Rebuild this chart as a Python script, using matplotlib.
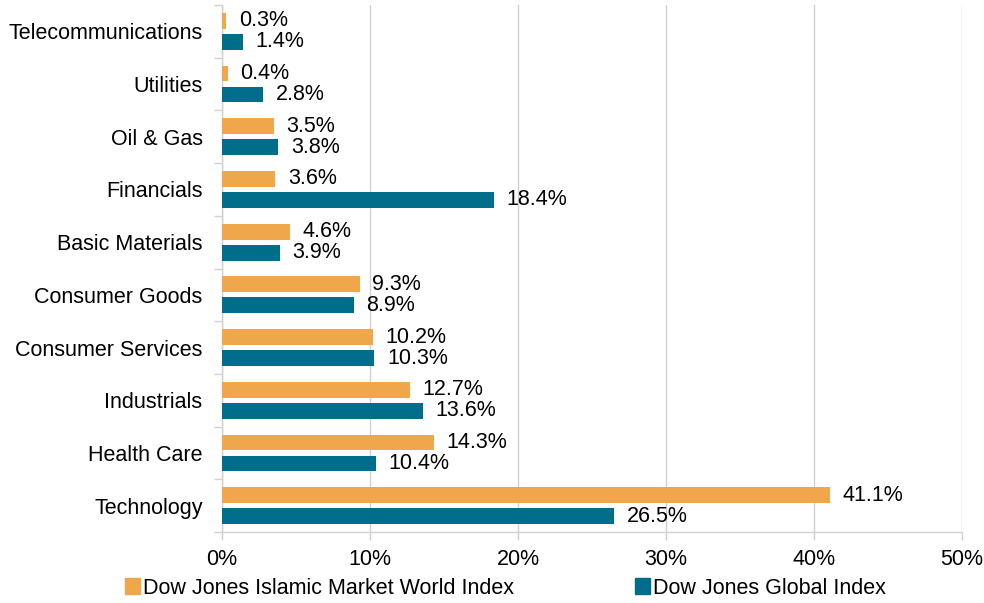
import matplotlib
matplotlib.use("Agg")
import matplotlib.pyplot as plt
import numpy as np

plt.rcParams['font.family'] = ['Liberation Sans', 'DejaVu Sans']

categories = ["Technology", "Health Care", "Industrials", "Consumer Services",
              "Consumer Goods", "Basic Materials", "Financials", "Oil & Gas",
              "Utilities", "Telecommunications"]
islamic = [41.1, 14.3, 12.7, 10.2, 9.3, 4.6, 3.6, 3.5, 0.4, 0.3]
global_idx = [26.5, 10.4, 13.6, 10.3, 8.9, 3.9, 18.4, 3.8, 2.8, 1.4]
series_names = ["Dow Jones Islamic Market World Index", "Dow Jones Global Index"]
xticks = [0, 10, 20, 30, 40, 50]

c_orange = "#F0A64B"
c_teal = "#006E8A"
grid_c = "#D0D0D0"

fig = plt.figure(figsize=(9.84, 6.03), dpi=100)
ax = fig.add_axes([222/984, 1-532/603, (962-222)/984, (532-5)/603])

y = np.arange(len(categories))
h = 0.30
gap = 0.10
b1 = ax.barh(y + (h/2 + gap/2), islamic, height=h, color=c_orange, label=series_names[0], zorder=3)
b2 = ax.barh(y - (h/2 + gap/2), global_idx, height=h, color=c_teal, label=series_names[1], zorder=3)

fs = 15.5
for bars, vals in ((b1, islamic), (b2, global_idx)):
    for rect, v in zip(bars, vals):
        ax.annotate(f"{v:.1f}%", (rect.get_width(), rect.get_y() + rect.get_height()/2),
                    xytext=(9, 0), textcoords="offset points", va="center", ha="left",
                    fontsize=fs, color="#000000")

ax.set_xlim(0, 50)
ax.set_ylim(-0.5, len(categories) - 0.5)
ax.set_xticks(xticks)
ax.set_xticklabels([f"{t}%" for t in xticks], fontsize=fs)
ax.set_yticks(y)
ax.set_yticklabels(categories, fontsize=fs)
ax.set_yticks(np.arange(-0.5, len(categories), 1), minor=True)
ax.tick_params(axis='y', which='major', length=0, pad=14)
ax.tick_params(axis='y', which='minor', length=6, color=grid_c, width=1)
ax.tick_params(axis='x', which='major', length=6, color=grid_c, width=1, pad=6)

ax.grid(axis='x', color=grid_c, linewidth=1, zorder=0)
for s in ("top", "right"):
    ax.spines[s].set_visible(False)
for s in ("left", "bottom"):
    ax.spines[s].set_color(grid_c)
    ax.spines[s].set_linewidth(1)

handles = [plt.Rectangle((0, 0), 1, 1, color=c_orange), plt.Rectangle((0, 0), 1, 1, color=c_teal)]
fig.legend(handles, series_names, loc="center left", bbox_to_anchor=(125/984, 1-588/603),
           ncol=2, frameon=False, fontsize=fs, handlelength=0.7, handleheight=0.7,
           handletextpad=0.15, columnspacing=5.6, borderaxespad=0, borderpad=0)

fig.savefig("out.png", dpi=100)
